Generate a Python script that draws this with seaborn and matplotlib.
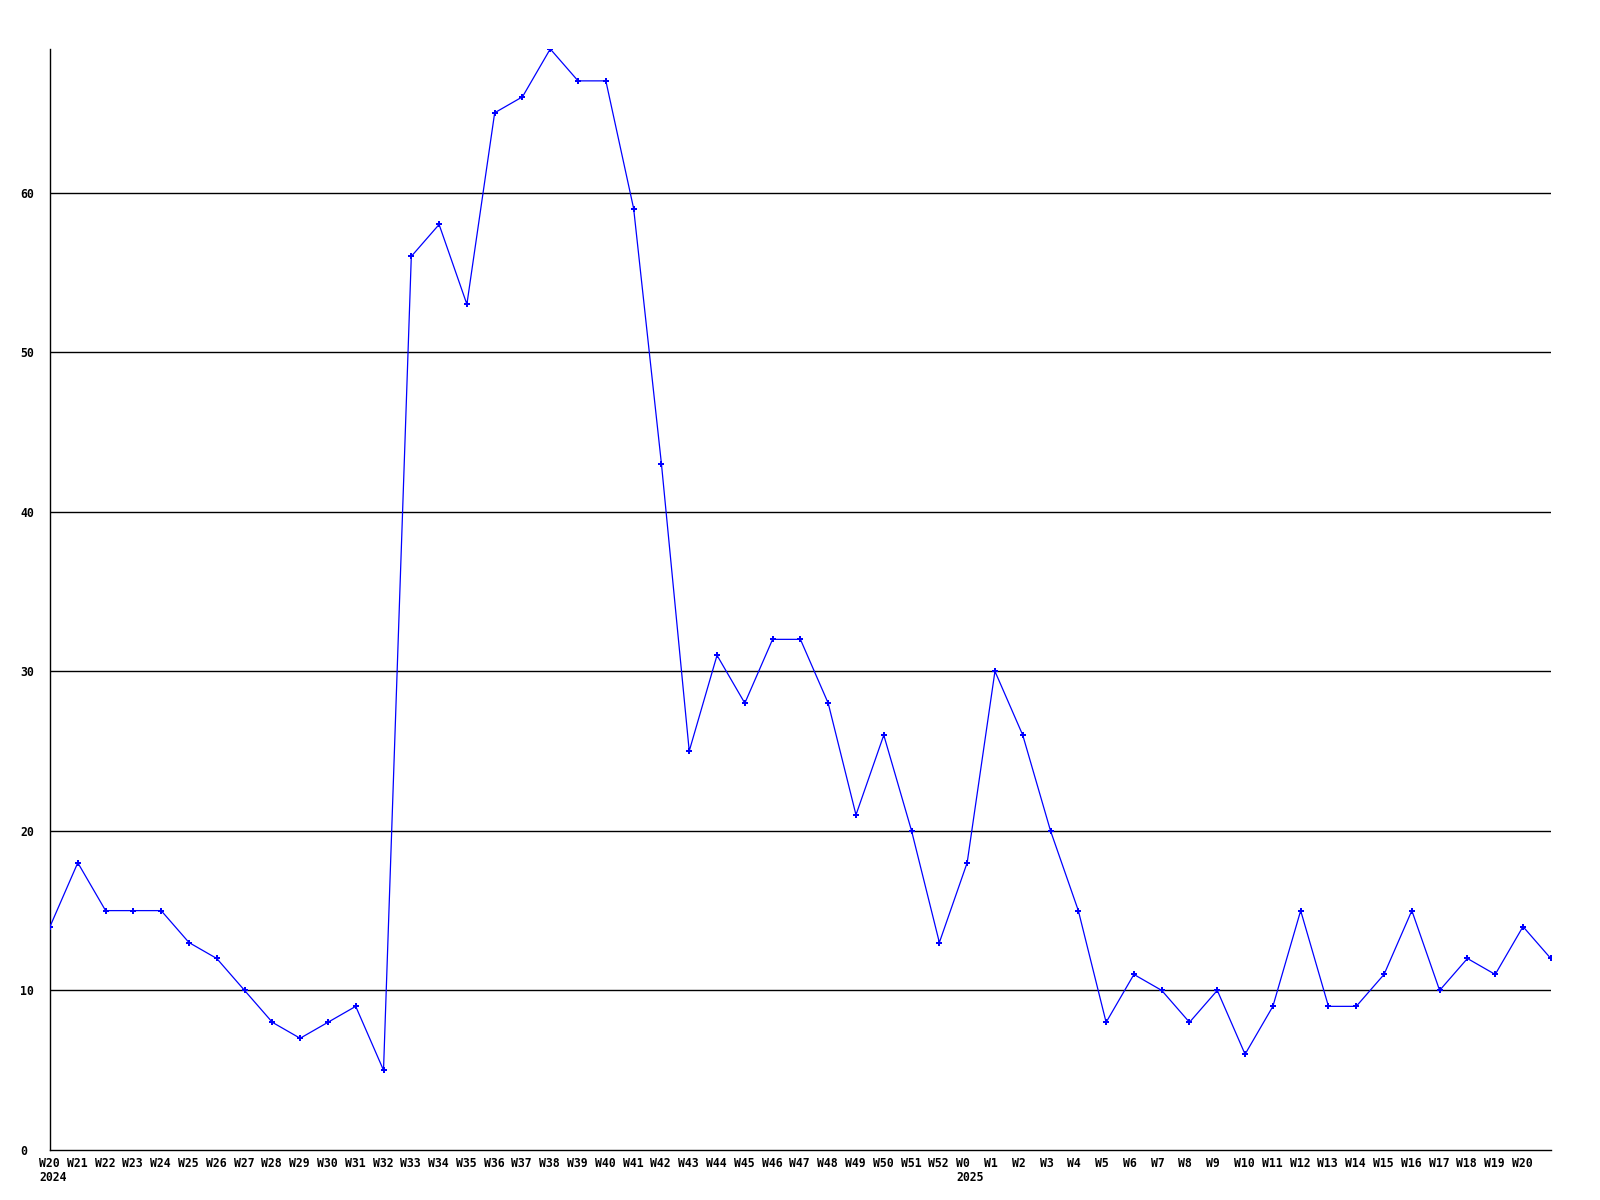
import matplotlib
matplotlib.use("Agg")
import matplotlib.pyplot as plt
import matplotlib.transforms as mtransforms
import seaborn as sns
import pandas as pd

# Weekly values, W20 2024 .. W20 2025 plus one trailing point
weeks = ["W20", "W21", "W22", "W23", "W24", "W25", "W26", "W27", "W28", "W29",
         "W30", "W31", "W32", "W33", "W34", "W35", "W36", "W37", "W38", "W39",
         "W40", "W41", "W42", "W43", "W44", "W45", "W46", "W47", "W48", "W49",
         "W50", "W51", "W52", "W0", "W1", "W2", "W3", "W4", "W5", "W6",
         "W7", "W8", "W9", "W10", "W11", "W12", "W13", "W14", "W15", "W16",
         "W17", "W18", "W19", "W20", ""]
years = {0: "2024", 33: "2025"}
values = [14, 18, 15, 15, 15, 13, 12, 10, 8, 7,
          8, 9, 5, 56, 58, 53, 65, 66, 69, 67,
          67, 59, 43, 25, 31, 28, 32, 32, 28, 21,
          26, 20, 13, 18, 30, 26, 20, 15, 8, 11,
          10, 8, 10, 6, 9, 15, 9, 9, 11, 15,
          10, 12, 11, 14, 12]
yticks = [0, 10, 20, 30, 40, 50, 60]

df = pd.DataFrame({"pos": range(len(values)), "value": values})

sns.set_style("white")
plt.rcParams["font.family"] = ["DejaVu Sans Mono", "DejaVu Sans"]
plt.rcParams["text.color"] = "black"
plt.rcParams["xtick.color"] = "black"
plt.rcParams["ytick.color"] = "black"

fig = plt.figure(figsize=(16, 12), dpi=100)
ax = fig.add_axes([0.03125, 0.0417, 0.938, 0.9175])

for y in yticks[1:]:
    ax.axhline(y, color="black", linewidth=1, zorder=1)

sns.lineplot(data=df, x="pos", y="value", ax=ax, color="#0000ff",
             linewidth=0.9, marker="P", markersize=5, markeredgewidth=0,
             zorder=3)

ax.set_xlim(0, len(values) - 1)
ax.set_ylim(0, 69)

labels = [w + ("\n" + years[i] if i in years else "") for i, w in enumerate(weeks)]
ax.set_xticks(range(len(values)))
ax.set_xticklabels(labels, fontsize=8.3, fontweight="bold", ha="left",
                   va="top", linespacing=1.15, color="black")
ax.set_yticks(yticks)
ax.set_yticklabels([str(t) for t in yticks], fontsize=8.3, fontweight="bold",
                   color="black")
ax.tick_params(axis="both", length=0)
ax.tick_params(axis="x", pad=5)
ax.tick_params(axis="y", pad=21.6)

shift = mtransforms.ScaledTranslation(-0.11, 0, fig.dpi_scale_trans)
for lab in ax.get_xticklabels():
    lab.set_transform(lab.get_transform() + shift)
for lab in ax.get_yticklabels():
    lab.set_ha("left")

ax.set_xlabel("")
ax.set_ylabel("")
for side in ["top", "right"]:
    ax.spines[side].set_visible(False)
for side in ["left", "bottom"]:
    ax.spines[side].set_color("black")
    ax.spines[side].set_linewidth(1)

fig.savefig("out.png", dpi=100)
